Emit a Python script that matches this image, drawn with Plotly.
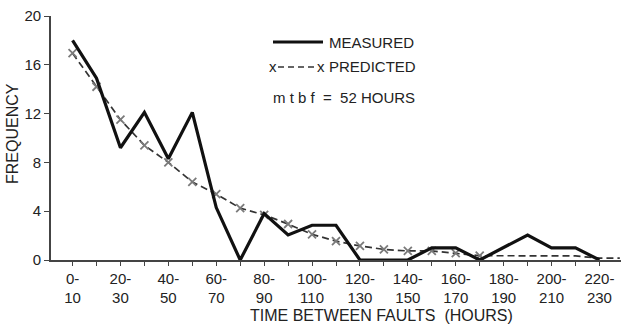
import plotly.graph_objects as go

# Bins of time between faults (hours)
categories = ["0-10", "10-20", "20-30", "30-40", "40-50", "50-60", "60-70", "70-80",
              "80-90", "90-100", "100-110", "110-120", "120-130", "130-140", "140-150",
              "150-160", "160-170", "170-180", "180-190", "190-200", "200-210",
              "210-220", "220-230"]
measured = [18, 14.9, 9.2, 12.1, 8.3, 12.1, 4.3, 0, 3.8, 2.05, 2.85, 2.85, 0, 0, 0,
            1, 1, 0, 1, 2.05, 1, 1, 0]
predicted = [16.95, 14.2, 11.5, 9.4, 8.0, 6.4, 5.4, 4.25, 3.7, 2.95, 2.1, 1.55, 1.15,
             0.87, 0.74, 0.74, 0.56, 0.35, 0.35, 0.35, 0.35, 0.33, 0.15]
predicted_tail = 0.15          # dashed line continues past the last bin
n_marked = 18                 # predicted points drawn with an "x"
tick_labels = ["0-<br>10", "20-<br>30", "40-<br>50", "60-<br>70", "80-<br>90",
               "100-<br>110", "120-<br>130", "140-<br>150", "160-<br>170",
               "180-<br>190", "200-<br>210", "220-<br>230"]
y_ticks = [0, 4, 8, 12, 16, 20]

x = list(range(len(categories)))
FONT = "Liberation Sans, Arial, sans-serif"
INK = "#222222"

fig = go.Figure()
fig.add_trace(go.Scatter(
    x=x + [len(categories) - 0.15], y=predicted + [predicted_tail],
    mode="lines", line=dict(color="#333333", width=1.7, dash="7px,4px"),
    hoverinfo="skip", showlegend=False))
fig.add_trace(go.Scatter(
    x=x[:n_marked], y=predicted[:n_marked], mode="markers",
    marker=dict(symbol="x-thin-open", size=8, color="#7a7a7a",
                line=dict(color="#7a7a7a", width=1.8)),
    showlegend=False))
fig.add_trace(go.Scatter(
    x=x, y=measured, mode="lines",
    line=dict(color="#111111", width=3.2), showlegend=False))

# plot area in pixels: left 51, right 621, top 16, bottom 260
def px(v):
    return (v - 51) / 570
def py(v):
    return (260 - v) / 244

shapes = [
    dict(type="line", xref="paper", yref="paper", x0=px(273), x1=px(323),
         y0=py(42), y1=py(42), line=dict(color="#111", width=3.2)),
    dict(type="line", xref="paper", yref="paper", x0=px(278), x1=px(317),
         y0=py(67), y1=py(67), line=dict(color="#333", width=1.6, dash="6px,4px")),
]
ann = []
def txt(x0, y0, s, size=15, anchor="left", **kw):
    ann.append(dict(xref="paper", yref="paper", x=px(x0), y=py(y0),
                    text=s, showarrow=False, xanchor=anchor, yanchor="middle",
                    font=dict(family=FONT, size=size, color=INK), **kw))
txt(327, 43, "MEASURED")
txt(327, 67, "PREDICTED")
txt(273, 66, "x", size=15, anchor="center")
txt(321, 66, "x", size=15, anchor="center")
txt(271, 97, "m t b f  =  52 HOURS", size=15)
txt(381, 315, "TIME BETWEEN FAULTS  (HOURS)", size=16, anchor="center")
txt(12, 134, "FREQUENCY", size=16, anchor="center", textangle=-90)

fig.update_layout(
    width=623, height=329,
    margin=dict(l=51, r=2, t=16, b=69, autoexpand=False),
    paper_bgcolor="white", plot_bgcolor="white",
    font=dict(family=FONT, size=15, color=INK),
    shapes=shapes, annotations=ann,
    xaxis=dict(range=[-0.9, 22.9], tickmode="array", automargin=False,
               tickvals=x[::2], ticktext=tick_labels,
               ticks="outside", ticklen=4, tickwidth=1.2, tickcolor="#444",
               minor=dict(tickmode="array", tickvals=x[1::2], ticks="outside",
                          ticklen=4, tickwidth=1.2, tickcolor="#444"),
               showline=True, linecolor="#444", linewidth=1.6,
               showgrid=False, zeroline=False,
               tickfont=dict(family=FONT, size=15, color=INK)),
    yaxis=dict(range=[0, 20], tickvals=y_ticks, ticks="outside", ticklen=5,
               automargin=False,
               tickwidth=1.2, tickcolor="#444",
               showline=True, linecolor="#444", linewidth=1.6,
               showgrid=False, zeroline=False,
               tickfont=dict(family=FONT, size=15, color=INK)),
)

fig.write_html("out.html", config={"displayModeBar": False},
               post_script="document.body.style.margin='0';document.body.style.padding='0';")
